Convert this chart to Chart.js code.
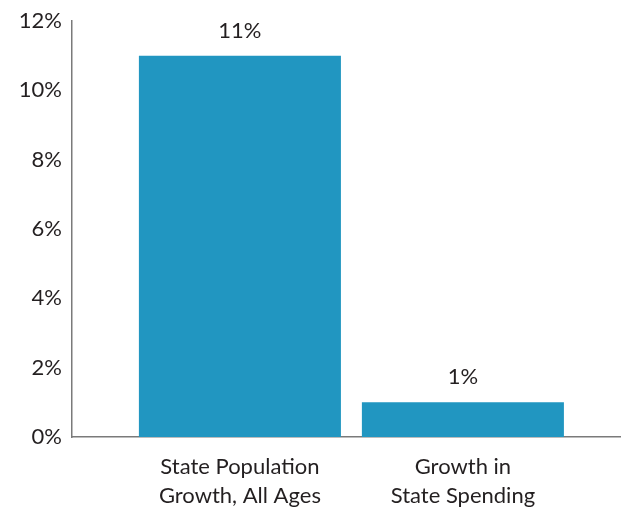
<!DOCTYPE html>
<html>
<head>
<meta charset="utf-8">
<script src="https://cdn.jsdelivr.net/npm/chart.js@4"></script>
<style>
  html, body { margin: 0; padding: 0; background: #fff; }
  #wrap { width: 621px; height: 508px; }
</style>
</head>
<body>
<div id="wrap"><canvas id="chart"></canvas></div>
<script>
const categories = [['State Population', 'Growth, All Ages'], ['Growth in', 'State Spending']];
const growthValues = [11, 1];
const yTicks = [0, 2, 4, 6, 8, 10, 12];

const barColor = '#2196c1';
const textColor = '#231f20';
const axisColor = '#7a7a7a';

// value labels above each bar
const valueLabels = {
  id: 'valueLabels',
  afterDatasetsDraw(chart) {
    const ctx = chart.ctx;
    const meta = chart.getDatasetMeta(0);
    ctx.save();
    ctx.font = '22px Lato';
    ctx.fillStyle = textColor;
    ctx.textAlign = 'center';
    ctx.textBaseline = 'alphabetic';
    meta.data.forEach((bar, i) => {
      ctx.fillText(growthValues[i] + '%', bar.x, bar.y - 18);
    });
    ctx.restore();
  }
};

new Chart(document.getElementById('chart'), {
  type: 'bar',
  data: {
    datasets: [{
      data: growthValues.map((v, i) => ({ x: i, y: v })),
      backgroundColor: barColor,
      borderWidth: 0,
      barPercentage: 0.906,
      categoryPercentage: 1
    }]
  },
  options: {
    responsive: true,
    maintainAspectRatio: false,
    animation: false,
    layout: { padding: 0 },
    plugins: {
      legend: { display: false },
      tooltip: { enabled: false }
    },
    scales: {
      x: {
        type: 'linear',
        offset: false,
        min: -0.753,
        max: 1.709,
        afterBuildTicks: scale => { scale.ticks = categories.map((c, i) => ({ value: i })); },
        afterFit: scale => { scale.height = 71; },
        grid: { display: false, drawTicks: false, offset: false },
        border: { display: true, color: axisColor, width: 1.5 },
        ticks: {
          autoSkip: false,
          maxRotation: 0,
          padding: 16,
          color: textColor,
          font: { family: 'Lato', size: 22, lineHeight: 1.3 },
          callback: v => categories[v]
        }
      },
      y: {
        min: 0,
        max: 12,
        afterBuildTicks: scale => { scale.ticks = yTicks.map(v => ({ value: v })); },
        afterFit: scale => { scale.width = 72; },
        grid: { display: false, drawTicks: false },
        border: { display: true, color: axisColor, width: 1.5 },
        ticks: {
          padding: 10,
          color: textColor,
          font: { family: 'Lato', size: 22, lineHeight: 1 },
          callback: v => v + '%'
        }
      }
    }
  },
  plugins: [valueLabels]
});
</script>
</body>
</html>
